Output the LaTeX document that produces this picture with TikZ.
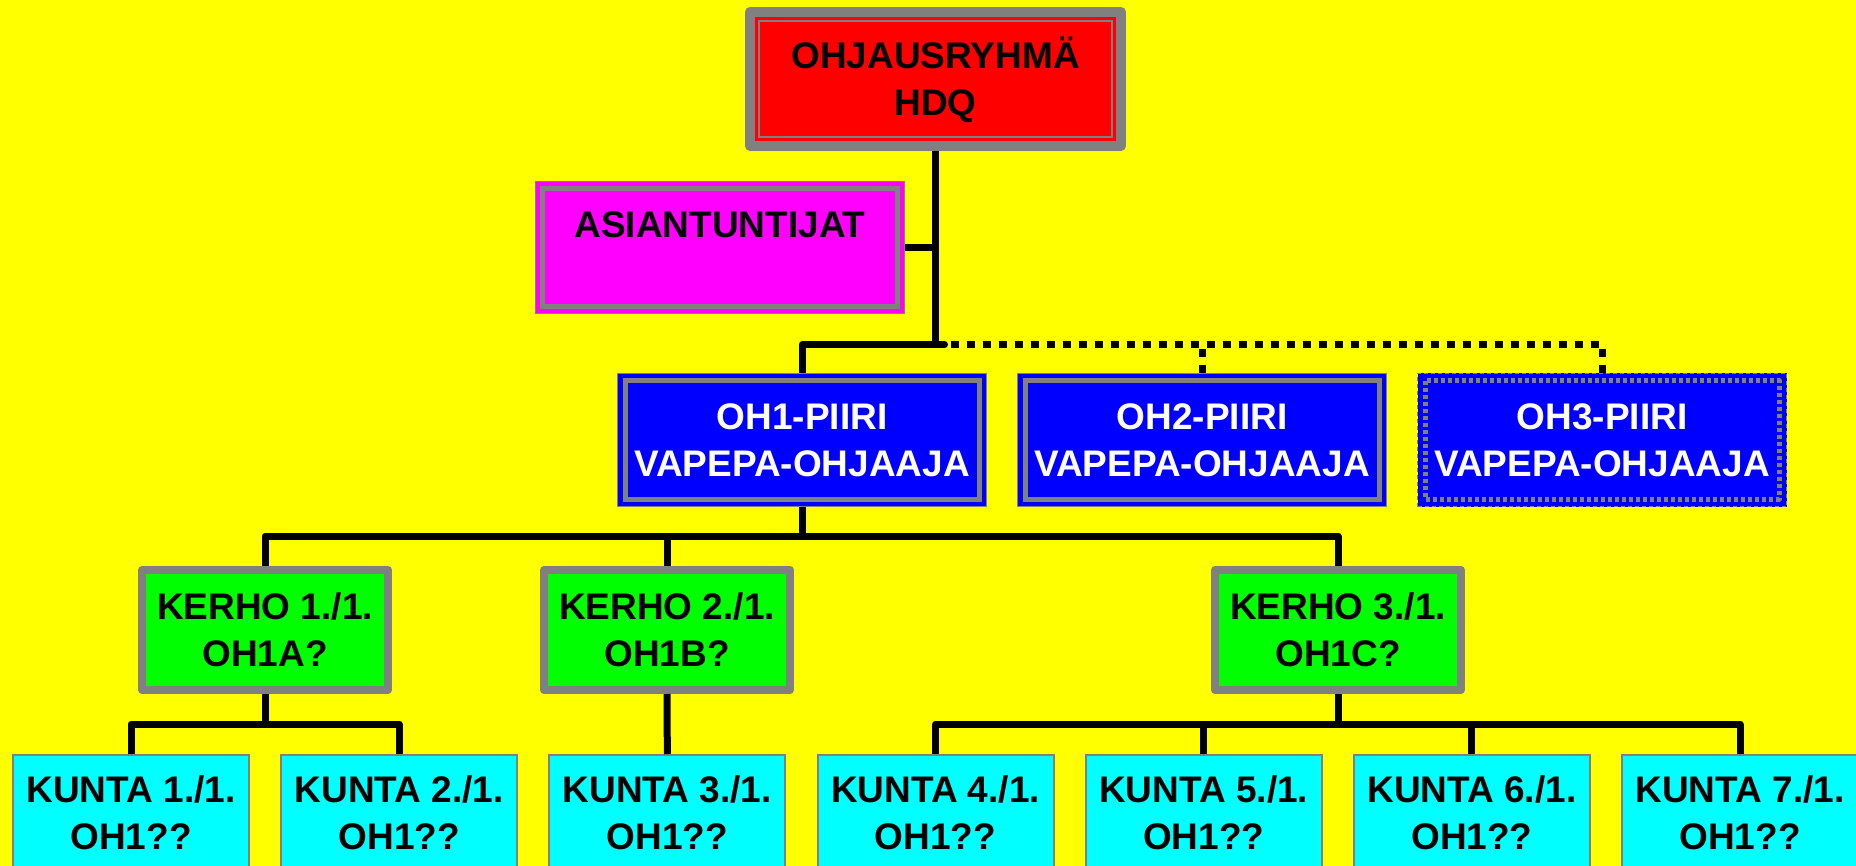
\documentclass[tikz,border=0pt]{standalone}
\usepackage{fontspec}
\setmainfont{Liberation Sans}
\definecolor{cYellow}{RGB}{255,255,0}
\definecolor{cRed}{RGB}{255,0,0}
\definecolor{cMagenta}{RGB}{255,0,255}
\definecolor{cBlue}{RGB}{0,0,255}
\definecolor{cGreen}{RGB}{0,255,0}
\definecolor{cCyan}{RGB}{0,255,255}
\definecolor{cGray}{RGB}{128,128,128}
\begin{document}
\begin{tikzpicture}[x=1pt,y=-1pt]
\tikzset{
  lbl/.style={font=\fontsize{37}{47}\selectfont\bfseries, align=center,
    text height=73.5pt, text depth=0pt, inner sep=0pt},
  lblone/.style={font=\fontsize{37}{47}\selectfont\bfseries, align=center,
    text height=26.5pt, text depth=47pt, inner sep=0pt},
  topbox/.style={lbl, draw=cGray, fill=cRed, line width=10pt, line join=round,
    minimum width=371pt, minimum height=134pt},
  asibox/.style={lblone, draw=cGray, fill=cMagenta, line width=1pt,
    minimum width=369pt, minimum height=132pt},
  piiribox/.style={lbl, text=white, draw=cGray, fill=cBlue, line width=1pt,
    minimum width=369pt, minimum height=133pt},
  kerhobox/.style={lbl, draw=cGray, fill=cGreen, line width=8pt, line join=round,
    minimum width=246pt, minimum height=120pt},
  kuntabox/.style={lbl, draw=cGray, fill=cCyan, line width=2pt,
    minimum width=236pt, minimum height=115pt},
  band/.style={draw=cGray, line width=5pt},
  conn/.style={line width=7pt, line join=round},
  dotconn/.style={conn, dash pattern=on 8pt off 8pt},
  dotedge/.style={dash pattern=on 4pt off 3pt}
}
\useasboundingbox (0,0) rectangle (1856,866);
\clip (0,0) rectangle (1856,866);
\fill[cYellow] (0,0) rectangle (1856,866);

% boxes
\node[topbox] (top) at (935.5,79) {OHJAUSRYHMÄ\\HDQ};
\draw[cGray, line width=2pt] ([shift={(14,14)}]top.north west) rectangle ([shift={(-14,-14)}]top.south east);

\node[asibox] (asi) at (720,247.5) {ASIANTUNTIJAT};
\draw[band] ([shift={(7.5,7.5)}]asi.north west) rectangle ([shift={(-7.5,-7.5)}]asi.south east);

\node[piiribox] (oh1) at (802,440) {OH1-PIIRI\\VAPEPA-OHJAAJA};
\draw[band] ([shift={(8,8)}]oh1.north west) rectangle ([shift={(-8,-8)}]oh1.south east);
\node[piiribox] (oh2) at (1202,440) {OH2-PIIRI\\VAPEPA-OHJAAJA};
\draw[band] ([shift={(8,8)}]oh2.north west) rectangle ([shift={(-8,-8)}]oh2.south east);
\node[piiribox, dotedge] (oh3) at (1602,440) {OH3-PIIRI\\VAPEPA-OHJAAJA};
\draw[band, dotedge, line join=round] ([shift={(8,8)}]oh3.north west) rectangle ([shift={(-8,-8)}]oh3.south east);

\node[kerhobox] (k1) at (265,630) {KERHO 1./1.\\OH1A?};
\node[kerhobox] (k2) at (667,630) {KERHO 2./1.\\OH1B?};
\node[kerhobox] (k3) at (1338,630) {KERHO 3./1.\\OH1C?};

\foreach \i in {1,...,7}
  \node[kuntabox] (u\i) at ({131+(\i-1)*268.17},812.5) {KUNTA \i./1.\\OH1??};

% connectors
\coordinate (j1) at (935.5,344.5);
\coordinate (b1) at (0,536);
\coordinate (b2) at (0,724);

\draw[conn] (top.south) -- (j1) -| (oh1.north);
\draw[conn, line cap=round] (j1) -- ++(9,0);
\draw[conn] (asi.east) -- (asi.east -| top.south);
\draw[dotconn] ([xshift=15pt]j1) -| (oh3.north);
\draw[dotconn] (oh2.north) -- (oh2.north |- j1);

\draw[conn] (oh1.south) -- (oh1.south |- b1);
\draw[conn] (k1.north) -- (k1.north |- b1) -- (k3.north |- b1) -- (k3.north);
\draw[conn] (k2.north) -- (k2.north |- b1);

\draw[conn] (k1.south) -- (k1.south |- b2);
\draw[conn] (u1.north) -- (u1.north |- b2) -- (u2.north |- b2) -- (u2.north);
\draw[conn] (k2.south) -- (u3.north);
\draw[conn] (k3.south) -- (k3.south |- b2);
\draw[conn] (u4.north) -- (u4.north |- b2) -- (u7.north |- b2) -- (u7.north);
\draw[conn] (u5.north) -- (u5.north |- b2);
\draw[conn] (u6.north) -- (u6.north |- b2);
\end{tikzpicture}
\end{document}
